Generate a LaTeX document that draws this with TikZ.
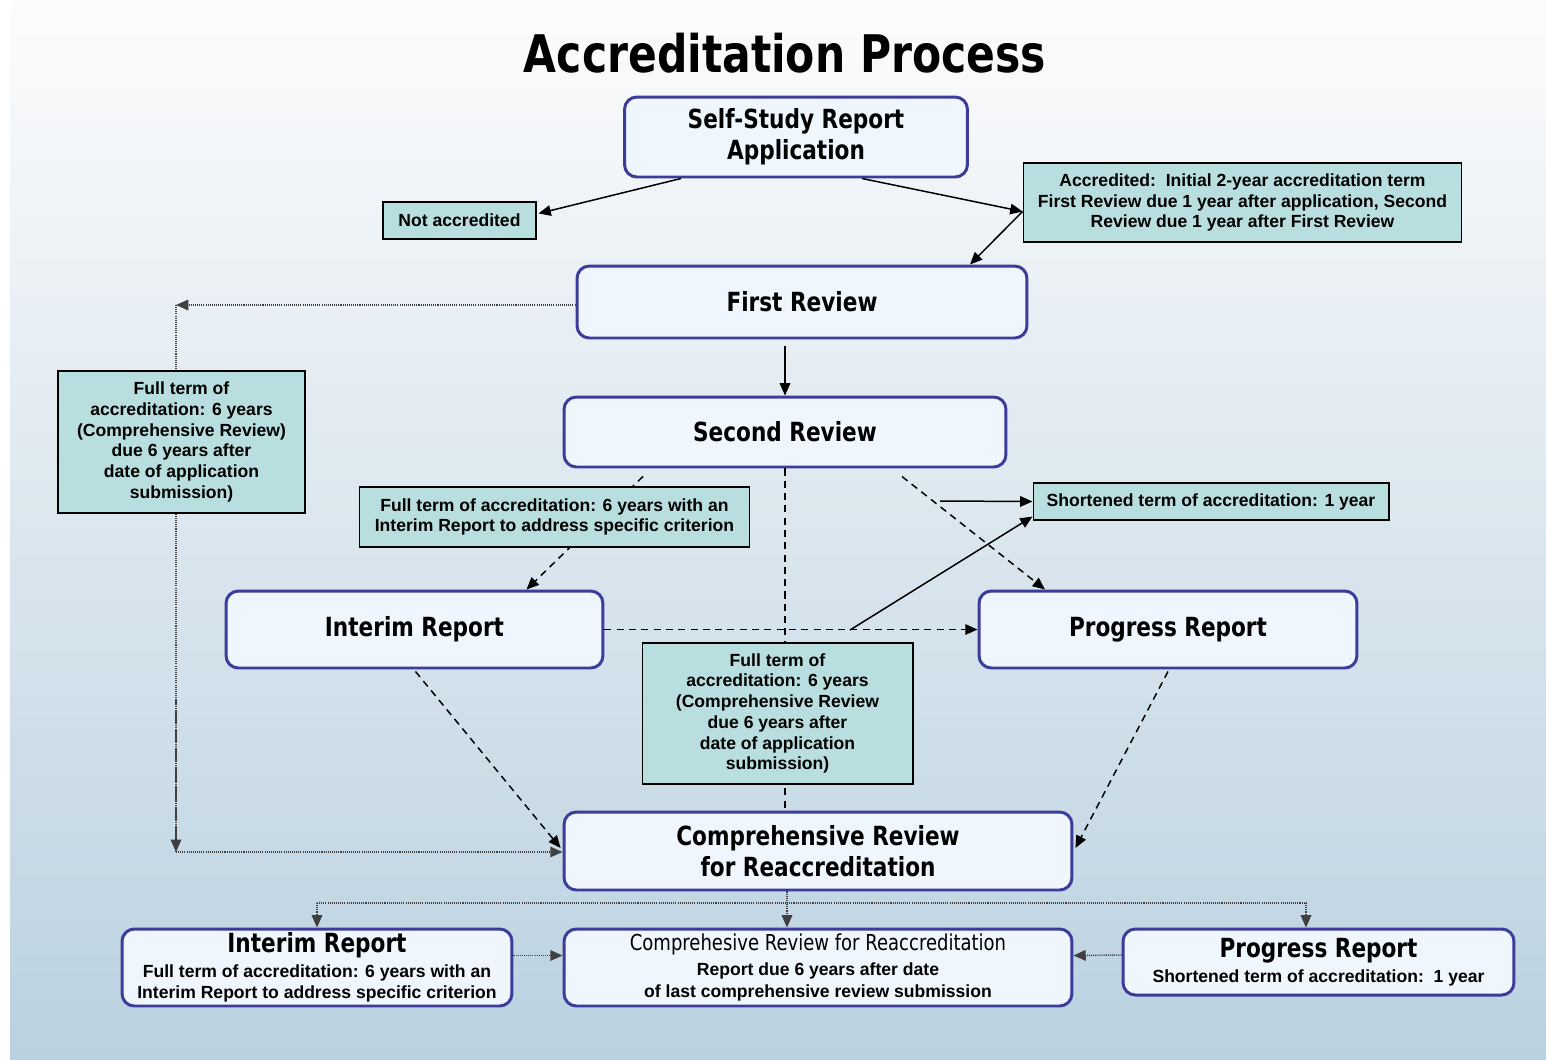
\documentclass[tikz,border=0pt]{standalone}
\usepackage{fontspec}
\usetikzlibrary{arrows.meta,calc,positioning}
\newfontfamily\headfont{DejaVu Sans}[FakeStretch=0.82]
\newfontfamily\notefont{Liberation Sans}
\definecolor{boxborder}{RGB}{60,60,155}
\definecolor{boxfill}{RGB}{240,246,253}
\definecolor{notefill}{RGB}{185,222,223}
\definecolor{bgtop}{RGB}{252,252,253}
\definecolor{bgbottom}{RGB}{186,209,224}
\tikzset{
  stage/.style={draw=boxborder, fill=boxfill, line width=1.7pt, rounded corners=7pt,
    inner sep=0pt, align=center, font=\headfont\bfseries\fontsize{15}{17.6}\selectfont},
  stagelow/.style={stage, font=\notefont\bfseries\fontsize{10}{12.5}\selectfont},
  note/.style={draw=black, fill=notefill, line width=0.6pt, inner sep=0pt, align=center,
    font=\notefont\bfseries\fontsize{10}{11.8}\selectfont},
  flow/.style={line width=0.85pt, -{Triangle[length=7pt,width=6pt]}},
  dashflow/.style={flow, dash pattern=on 4pt off 3pt},
  dotflow/.style={flow, draw=black!75, dash pattern=on 0.6pt off 0.6pt},
}
\newcommand{\stagetitle}{\headfont\bfseries\fontsize{15}{17.6}\selectfont}
\begin{document}
\begin{tikzpicture}[x=0.02cm,y=-0.02cm]
    \useasboundingbox (0,0) rectangle (1546,1059);
    \fill[white] (0,0) rectangle (1546,1059);
    \shade[top color=bgtop, bottom color=bgbottom] (10,0) rectangle (1546,1059);

    \node (title) at (785,53) {\headfont\bfseries\fontsize{29.5}{32}\selectfont Accreditation Process};

    % main stages
    \node[stage, minimum width=6.86cm, minimum height=1.6cm] (selfstudy) at (796,137) {Self-Study Report\\Application};
    \node[stage, minimum width=9cm, minimum height=1.44cm] (first) at (802,302) {First Review};
    \node[stage, minimum width=8.84cm, minimum height=1.4cm] (second) at (785,432) {Second Review};
    \node[stage, minimum width=7.54cm, minimum height=1.54cm] (interim) at (414.5,629.5) {Interim Report};
    \node[stage, minimum width=7.56cm, minimum height=1.54cm] (progress) at (1168,629.5) {Progress Report};
    \node[stage, minimum width=10.16cm, minimum height=1.56cm] (comp) at (818,851) {Comprehensive Review\\for Reaccreditation};

    % bottom row
    \node[stagelow, minimum width=7.8cm, minimum height=1.54cm] (binterim) at (317,967.5)
      {{\stagetitle Interim Report}\\[1.5pt]Full term of accreditation: 6 years with an\\Interim Report to address specific criterion};
    \node[stagelow, minimum width=10.16cm, minimum height=1.54cm] (bcomp) at (818,967.5)
      {{\headfont\mdseries\fontsize{12.5}{15}\selectfont Comprehesive Review for Reaccreditation}\\[2pt]Report due 6 years after date\\of last comprehensive review submission};
    \node[stagelow, minimum width=7.82cm, minimum height=1.32cm] (bprogress) at (1318.5,962)
      {{\stagetitle Progress Report}\\[2pt]Shortened term of accreditation:\ \ 1 year};

    % notes
    \node[note, minimum width=3.06cm, minimum height=0.74cm] (notacc) at (459.5,220.5) {Not accredited};
    \node[note, minimum width=8.78cm, minimum height=1.58cm] (acc) at (1242.5,202.5)
      {Accredited:\ \ Initial 2-year accreditation term\\First Review due 1 year after application, Second\\Review due 1 year after First Review};
    \node[note, minimum width=7.12cm, minimum height=0.74cm] (shortnote) at (1211,501.5) {Shortened term of accreditation: 1 year};

    % connectors
    \coordinate (acctip) at ($(acc.west)+(0,9)$);
    \draw[flow] ($(selfstudy.south)+(-115,0)$) -- ($(notacc.east)+(2,-7)$);
    \draw[flow] ($(selfstudy.south)+(66,0)$) -- (acctip);
    \draw[flow] (acctip) -- ($(first.north)+(168,0)$);
    \draw[flow] ($(first.south)+(-17,7)$) -- (second.north);

    \coordinate (lefttop) at (176,305);
    \coordinate (leftbot) at (176,852);
    \draw[dotflow] (first.west |- lefttop) -- (lefttop);
    \draw[dotflow,-] (lefttop) -- (leftbot);
    \draw[dotflow] (176,700) -- (leftbot);
    \draw[dotflow] (leftbot) -- (comp.west |- leftbot);

    \draw[dashflow,-] (second.south) -- (second.south |- comp.north);
    \draw[dashflow] ($(second.south)+(-142,8)$) -- ($(interim.north)+(112,0)$);
    \draw[dashflow] ($(second.south)+(117,8)$) -- ($(progress.north)+(-123,0)$);
    \draw[dashflow] (interim.east) -- (progress.west);
    \draw[dashflow] ($(interim.south)+(1,2)$) -- ($(comp.west)+(-2,-3)$);
    \draw[dashflow] ($(progress.south)+(0,2)$) -- ($(comp.east)+(2,-3)$);

    \coordinate (shortfrom) at (940,501);
    \coordinate (branch) at (850,630);
    \draw[flow] (shortfrom) -- (shortnote.west);
    \draw[flow] (branch) -- ($(shortnote.south west)+(0,-4)$);

    % notes drawn over the lines they cover
    \node[note, minimum width=4.94cm, minimum height=2.84cm] (leftfull) at (181.5,442)
      {Full term of\\accreditation: 6 years\\(Comprehensive Review)\\due 6 years after\\date of application\\submission)};
    \node[note, minimum width=7.82cm, minimum height=1.2cm] (interimnote) at (554.5,517)
      {Full term of accreditation: 6 years with an\\Interim Report to address specific criterion};
    \node[note, minimum width=5.42cm, minimum height=2.82cm] (centerfull) at (777.5,713.5)
      {Full term of\\accreditation: 6 years\\(Comprehensive Review\\due 6 years after\\date of application\\submission)};

    \coordinate (splitl) at (317,903);
    \coordinate (splitr) at (1306,903);
    \draw[dotflow] ($(comp.south)+(-31,0)$) -- ($(bcomp.north)+(-31,0)$);
    \draw[dotflow,-] (splitl) -- (splitr);
    \draw[dotflow] (splitl) -- (binterim.north);
    \draw[dotflow] (splitr) -- (splitr |- bprogress.north);
    \draw[dotflow] ($(binterim.east)+(0,-12)$) -- ($(bcomp.west)+(0,-12)$);
    \draw[dotflow] ($(bprogress.west)+(0,-7)$) -- ($(bcomp.east)+(0,-12)$);
\end{tikzpicture}
\end{document}
